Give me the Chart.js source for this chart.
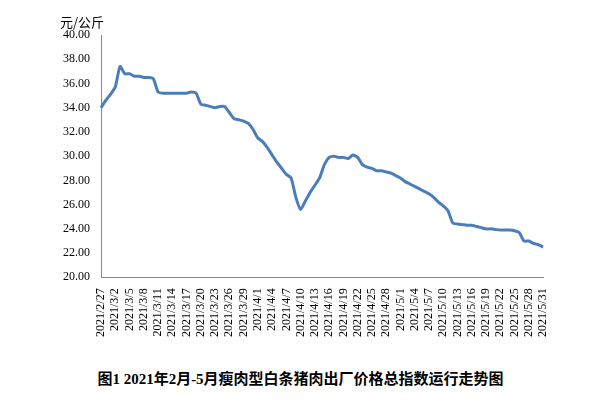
<!DOCTYPE html>
<html><head><meta charset="utf-8">
<script src="https://cdn.jsdelivr.net/npm/chart.js@4"></script>
<style>
body{margin:0;background:#fff;font-family:"Liberation Serif","Noto Sans CJK SC",serif}
#wrap{position:relative;width:601px;height:340px}
#cap{position:absolute;top:367px;left:0;width:601px;text-align:center;font-weight:bold;font-size:15px;font-family:"Liberation Serif","Noto Sans CJK SC",serif}
</style></head>
<body>
<div id="wrap"><canvas id="c" width="601" height="340"></canvas></div>
<div id="cap">图1 2021年2月-5月瘦肉型白条猪肉出厂价格总指数运行走势图</div>
<script>
// daily dates 2021/2/27 .. 2021/5/31
const monthDays = [[2, 27, 28], [3, 1, 31], [4, 1, 30], [5, 1, 31]];
const dates = [];
monthDays.forEach(([m, a, b]) => { for (let d = a; d <= b; d++) dates.push('2021/' + m + '/' + d); });

const price = [34.0, 34.6,
  35.1, 35.7, 37.4, 36.8, 36.8, 36.6, 36.6, 36.5, 36.5, 36.4, 35.3, 35.2, 35.2, 35.2, 35.2, 35.2, 35.2, 35.3, 35.2, 34.3,
  34.2, 34.1, 34.0, 34.1, 34.1, 33.6, 33.1, 33.0, 32.9, 32.7, 32.2,
  31.5, 31.2, 30.7, 30.1, 29.5, 29.0, 28.5, 28.2, 26.6, 25.6, 26.3, 27.0, 27.6, 28.2, 29.3, 29.9, 30.0, 29.9, 29.9, 29.8,
  30.1, 29.9, 29.3, 29.1, 29.0, 28.8, 28.8, 28.7, 28.6, 28.4,
  28.2, 27.9, 27.7, 27.5, 27.3, 27.1, 26.9, 26.6, 26.2, 25.9, 25.5, 24.5, 24.4, 24.35, 24.3, 24.3, 24.2, 24.1, 24.0, 24.0,
  23.95, 23.9, 23.9, 23.9, 23.85, 23.7, 23.0, 23.0, 22.8, 22.7, 22.5];

const unitLabel = {
  id: 'unitLabel',
  afterDraw(chart) {
    const ctx = chart.ctx;
    ctx.save();
    ctx.font = '13px "Noto Sans CJK SC", sans-serif';
    ctx.fillStyle = '#000';
    ctx.textAlign = 'left';
    ctx.fillText('元/公斤', 60, 27);
    ctx.restore();
  }
};

new Chart(document.getElementById('c'), {
  type: 'line',
  data: {
    labels: dates,
    datasets: [{ data: price, borderColor: '#4a7ebb', borderWidth: 3, pointRadius: 0, tension: 0.2 }]
  },
  options: {
    responsive: false, animation: false,
    layout: { padding: { left: 60, right: 58, top: 35, bottom: 0 } },
    plugins: { legend: { display: false }, tooltip: { enabled: false } },
    scales: {
      x: {
        offset: false,
        grid: { display: false, drawTicks: true, color: '#000' },
        border: { color: '#888' },
        ticks: {
          autoSkip: false, maxRotation: 90, minRotation: 90, color: '#000',
          font: { size: 12, family: '"Liberation Serif", serif' },
          callback: (v, i) => i % 3 === 0 ? dates[i] : ''
        }
      },
      y: {
        min: 20, max: 40,
        grid: { display: false, drawTicks: true },
        border: { color: '#888' },
        ticks: { stepSize: 2, color: '#000', font: { size: 12, family: '"Liberation Serif", serif' }, callback: v => v.toFixed(2) }
      }
    }
  },
  plugins: [unitLabel]
});
</script>
</body></html>
